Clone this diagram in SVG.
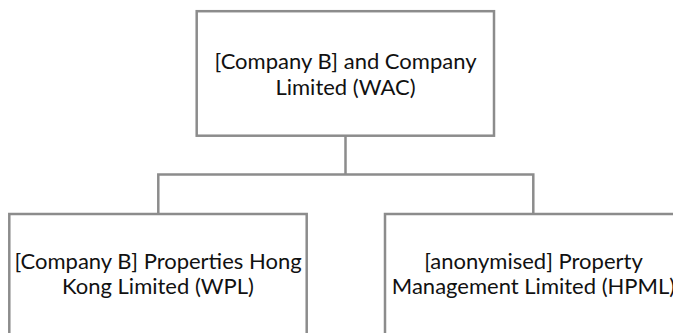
<svg xmlns="http://www.w3.org/2000/svg" width="673" height="333" viewBox="0 0 673 333">
  <style>
    .box { fill: #ffffff; stroke: #8c8c8c; stroke-width: 2.5; }
    .link { fill: none; stroke: #8c8c8c; stroke-width: 2.5; }
    .label { font-family: Lato, "Liberation Sans", sans-serif; font-size: 22px; fill: #111111; text-anchor: middle; }
  </style>
  <rect width="673" height="333" fill="#ffffff"/>
  <g id="connectors">
    <path class="link" d="M345.5,136 V174.5 M158.3,214 V174.5 H533.3 V214"/>
  </g>
  <g id="wac">
    <rect class="box" x="196.7" y="11.2" width="297.3" height="124.5"/>
    <text class="label" x="345.5" y="69.3">[Company B] and Company</text>
    <text class="label" x="345.5" y="95">Limited (WAC)</text>
  </g>
  <g id="wpl">
    <rect class="box" x="9.3" y="214" width="297.4" height="140"/>
    <text class="label" x="158" y="269">[Company B] Properties Hong</text>
    <text class="label" x="158" y="294">Kong Limited (WPL)</text>
  </g>
  <g id="hpml">
    <rect class="box" x="385" y="214" width="297.4" height="140"/>
    <text class="label" x="533.5" y="269">[anonymised] Property</text>
    <text class="label" x="533.5" y="294">Management Limited (HPML)</text>
  </g>
</svg>
